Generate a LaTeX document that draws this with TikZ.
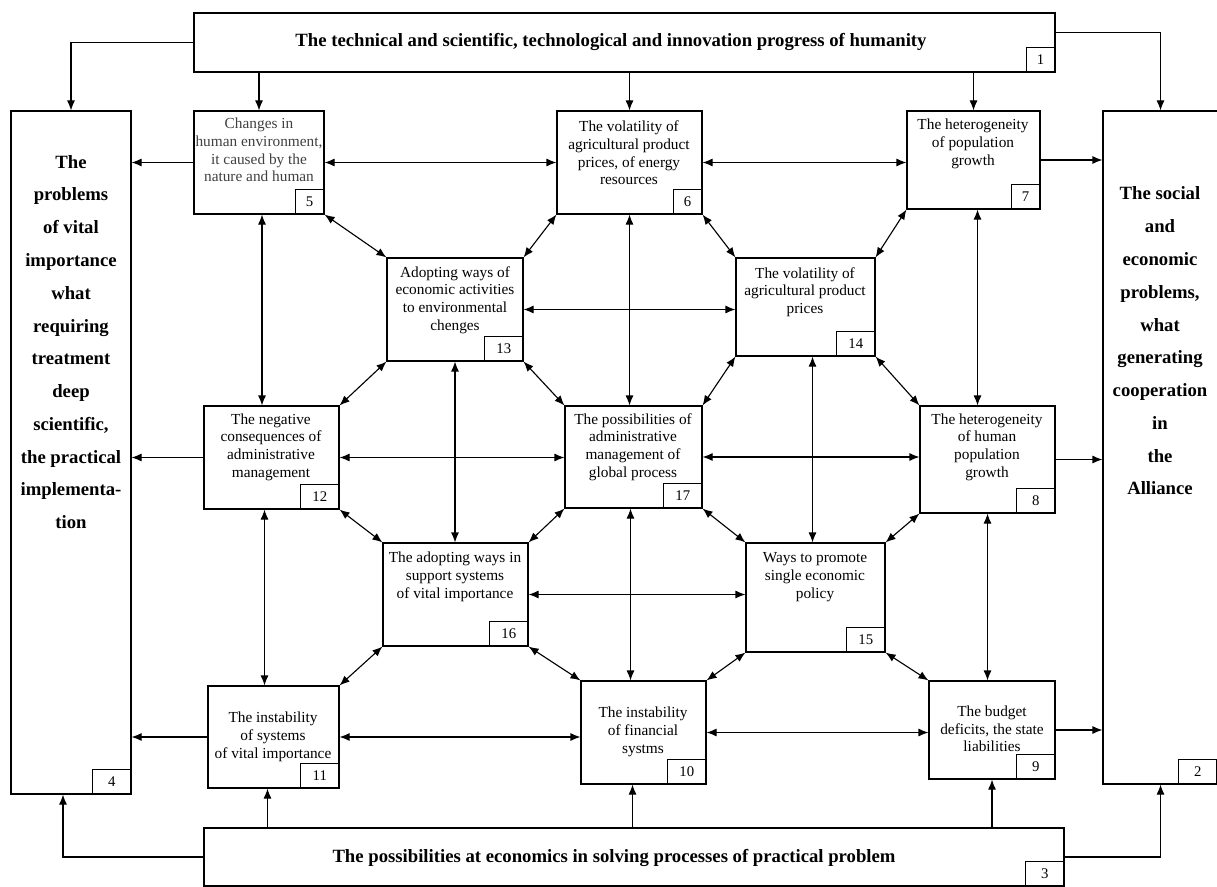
\documentclass[tikz,border=0pt]{standalone}
\usepackage{fontspec}
\setmainfont{Liberation Serif}
\usetikzlibrary{arrows.meta,calc,fit}

\tikzset{
	box/.style={draw, line width=0.8pt, inner sep=0pt},
	numbox/.style={draw, line width=0.8pt, anchor=south east, inner sep=0pt, minimum width=0.96cm, minimum height=0.62cm, font=\fontsize{10.5}{12}\selectfont},
	numnarrow/.style={numbox, minimum width=0.72cm},
	txt/.style={align=center, font=\fontsize{10.9}{12.6}\selectfont},
	bigtxt/.style={align=center, font=\fontsize{13.3}{23.3}\selectfont\bfseries},
	title/.style={font=\fontsize{13.3}{16}\selectfont\bfseries},
	link/.style={line width=0.8pt, -{Latex[length=2.5mm,width=2mm]}},
	dlink/.style={line width=0.8pt, {Latex[length=2.5mm,width=2mm]}-{Latex[length=2.5mm,width=2mm]}}
}

\begin{document}
\begin{tikzpicture}[x=0.025cm, y=-0.025cm]
	\useasboundingbox (0,0) rectangle (1217,887);

	\node[box, fit={(194,13)(1055,72)}] (b1) {};
	\node[box, fit={(1103,111)(1218,784)}] (b2) {};
	\node[box, fit={(204,828)(1064,886)}] (b3) {};
	\node[box, fit={(11,111)(131,794)}] (b4) {};
	\node[box, fit={(194,111)(324,214)}] (b5) {};
	\node[box, fit={(557,111)(702,214)}] (b6) {};
	\node[box, fit={(907,111)(1040,209)}] (b7) {};
	\node[box, fit={(387,258)(523,361)}] (b13) {};
	\node[box, fit={(736,258)(875,356)}] (b14) {};
	\node[box, fit={(204,406)(339,509)}] (b12) {};
	\node[box, fit={(565,406)(702,508)}] (b17) {};
	\node[box, fit={(920,406)(1055,513)}] (b8) {};
	\node[box, fit={(383,543)(528,646)}] (b16) {};
	\node[box, fit={(746,543)(885,652)}] (b15) {};
	\node[box, fit={(208,686)(339,788)}] (b11) {};
	\node[box, fit={(581,681)(706,784)}] (b10) {};
	\node[box, fit={(929,681)(1055,779)}] (b9) {};

	\node[title] (t1) at (611,42) {The technical and scientific, technological and innovation progress of humanity};
	\node[title] (t3) at (614,858) {The possibilities at economics in solving processes of practical problem};
	\node[bigtxt] (t4) at (71,342) {The\\problems\\of vital\\importance\\what\\requiring\\treatment\\deep\\scientific,\\the practical\\implementa-\\tion};
	\node[bigtxt] (t2) at (1160,341) {The social\\and\\economic\\problems,\\what\\generating\\cooperation\\in\\the\\Alliance};
	\node[txt, text=black!75] (t5) at (259,150) {Changes in\\human environment,\\it caused by the\\nature and human};
	\node[txt] (t6) at (629,153) {The volatility of\\agricultural product\\prices, of energy\\resources};
	\node[txt] (t7) at (973,144) {The heterogeneity\\of population\\growth};
	\node[txt] (t13) at (455,300) {Adopting ways of\\economic activities\\to environmental\\chenges};
	\node[txt] (t14) at (805,292) {The volatility of\\agricultural product\\prices};
	\node[txt] (t12) at (271,447) {The negative\\consequences of\\administrative\\management};
	\node[txt] (t17) at (633,447) {The possibilities of\\administrative\\management of\\global process};
	\node[txt] (t8) at (987,447) {The heterogeneity\\of human\\population\\growth};
	\node[txt] (t16) at (455,577) {The adopting ways in\\support systems\\of vital importance};
	\node[txt] (t15) at (815,577) {Ways to promote\\single economic\\policy};
	\node[txt] (t11) at (273,737) {The instability\\of systems\\of vital importance};
	\node[txt] (t10) at (643,732) {The instability\\of financial\\systms};
	\node[txt] (t9) at (992,729) {The budget\\deficits, the state\\liabilities};

	\node[numnarrow] (n1) at (b1.south east) {1};
	\node[numbox] (n2) at ($(b2.south east)+(-1,0)$) {2};
	\node[numbox] (n3) at (b3.south east) {3};
	\node[numbox] (n4) at (b4.south east) {4};
	\node[numnarrow] (n5) at (b5.south east) {5};
	\node[numnarrow] (n6) at (b6.south east) {6};
	\node[numnarrow] (n7) at (b7.south east) {7};
	\node[numbox] (n8) at (b8.south east) {8};
	\node[numbox] (n9) at (b9.south east) {9};
	\node[numbox] (n10) at (b10.south east) {10};
	\node[numbox] (n11) at (b11.south east) {11};
	\node[numbox] (n12) at (b12.south east) {12};
	\node[numbox] (n13) at (b13.south east) {13};
	\node[numbox] (n14) at (b14.south east) {14};
	\node[numbox] (n15) at (b15.south east) {15};
	\node[numbox] (n16) at (b16.south east) {16};
	\node[numbox] (n17) at (b17.south east) {17};

	\draw[link] (b1.west) -| (b4.north);
	\draw[link] ($(b1.east)+(0,-10)$) -| (b2.north);
	\foreach \a in {5,6,7}
		\draw[link] (b\a.north |- b1.south) -- (b\a.north);
	\draw[link] (b3.west) -| ($(b4.south)+(-8,0)$);
	\draw[link] (b3.east) -| (b2.south);
	\foreach \a/\d in {11/-6,10/-11,9/0}
		\draw[link] ($(b\a.south |- b3.north)+(\d,0)$) -- ($(b\a.south)+(\d,0)$);
	\foreach \a in {5,12,11}
		\draw[link] (b\a.west) -- (b\a.west -| b4.east);
	\foreach \a in {7,8,9}
		\draw[link] (b\a.east) -- (b\a.east -| b2.west);

	\foreach \a/\b in {5/6,6/7,13/14,12/17,17/8,16/15,11/10,10/9}
		\draw[dlink] (b\a.east) -- (b\a.east -| b\b.west);
	\foreach \a/\b/\d in {5/12/3,12/11/-7,6/17/0,17/10/-3,7/8/4,8/9/0,13/16/0,14/15/7}
		\draw[dlink] ($(b\a.south)+(\d,0)$) -- ($(b\a.south |- b\b.north)+(\d,0)$);
	\foreach \a/\b in {5/13,13/17,6/14,14/8,12/16,16/10,17/15,15/9}
		\draw[dlink] (b\a.south east) -- (b\b.north west);
	\foreach \a/\b in {6/13,13/12,7/14,14/17,17/16,16/11,8/15,15/10}
		\draw[dlink] (b\a.south west) -- (b\b.north east);
\end{tikzpicture}
\end{document}
